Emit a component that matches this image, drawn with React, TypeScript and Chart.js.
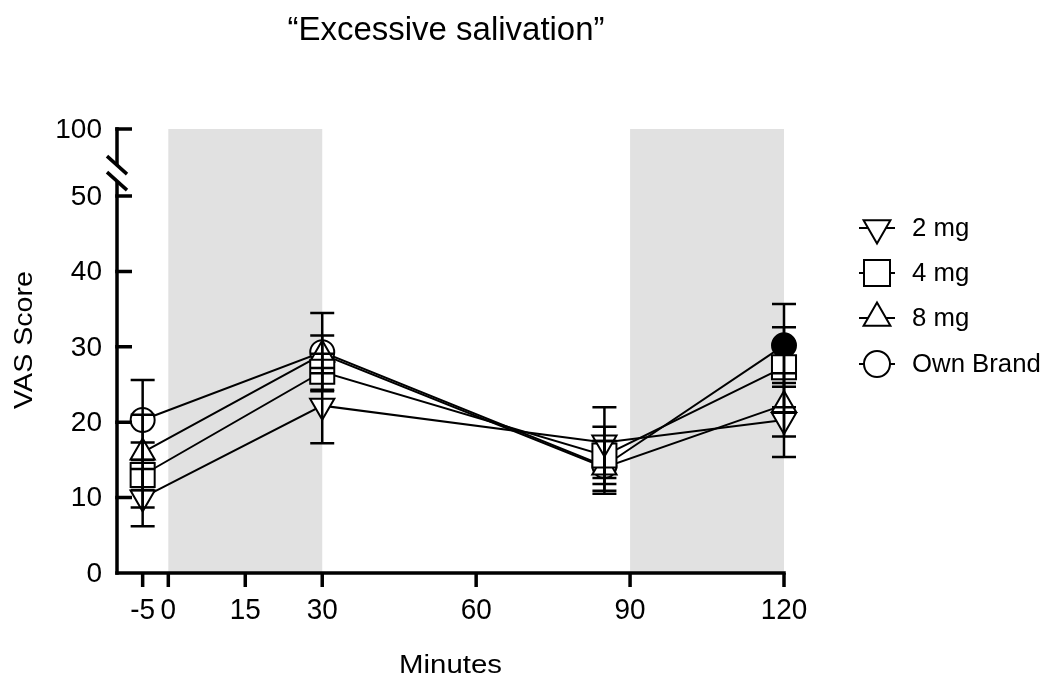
import React, { useEffect, useRef } from "react";
import { Chart, registerables } from "chart.js";

Chart.register(...registerables);

// ---------- data ----------
const minutes = [-5, 30, 85, 120];
const seriesNames = ["2 mg", "4 mg", "8 mg", "Own Brand"];
const mg2 = [10.0, 22.2, 17.3, 20.3];
const mg2Err = [3.8, 5.0, 4.7, 4.9];
const mg4 = [13.0, 26.7, 15.6, 27.3];
const mg4Err = [4.3, 2.4, 3.8, 5.3];
const mg8 = [16.0, 29.0, 14.0, 22.3];
const mg8Err = [5.0, 2.5, 3.5, 4.2];
const own = [20.3, 29.3, 14.2, 30.2];
const ownErr = [5.3, 5.2, 3.3, 5.5];
const ownFilled = [false, false, false, true];

const xTicks = [-5, 0, 15, 30, 60, 90, 120];
const yTicks = [0, 10, 20, 30, 40, 50];
const yBreakTickLabel = "100";
const shadedBands = [
  [0, 30],
  [90, 120],
];
const titleText = "\u201CExcessive salivation\u201D";
const xTitle = "Minutes";
const yTitle = "VAS Score";

const FONT = '"Liberation Sans", Arial, Helvetica, sans-serif';

type Sym = "down" | "square" | "up" | "circle";
const symbols: Sym[] = ["down", "square", "up", "circle"];

function txt(
  ctx: CanvasRenderingContext2D,
  text: string,
  x: number,
  y: number,
  size: number,
  sx: number,
  align: CanvasTextAlign,
  rot = 0
) {
  ctx.save();
  ctx.translate(x, y);
  if (rot) ctx.rotate(rot);
  ctx.scale(sx, 1);
  ctx.font = `${size}px ${FONT}`;
  ctx.textAlign = align;
  ctx.textBaseline = "middle";
  ctx.fillStyle = "#000";
  ctx.fillText(text, 0, 0);
  ctx.restore();
}

function drawSymbol(ctx: CanvasRenderingContext2D, s: Sym, x: number, y: number) {
  ctx.save();
  ctx.beginPath();
  if (s === "circle") {
    ctx.arc(x, y, 13, 0, Math.PI * 2);
  } else if (s === "square") {
    ctx.rect(x - 13, y - 13, 26, 26);
  } else {
    const r = 15.5;
    const dir = s === "up" ? 1 : -1;
    const h = r * 1.5;
    const w = r * Math.sqrt(3);
    const tipY = y - dir * r;
    const baseY = tipY + dir * h;
    ctx.moveTo(x, tipY);
    ctx.lineTo(x + w / 2, baseY);
    ctx.lineTo(x - w / 2, baseY);
    ctx.closePath();
  }
  ctx.fillStyle = "#fff";
  ctx.fill();
  ctx.lineWidth = 2;
  ctx.strokeStyle = "#000";
  ctx.stroke();
  ctx.restore();
}

const decorPlugin = {
  id: "decor",
  beforeDatasetsDraw(chart: any) {
    const { ctx, chartArea, scales } = chart;
    const xs = scales.x;
    ctx.save();
    ctx.fillStyle = "#e1e1e1";
    for (const [a, b] of shadedBands) {
      const x1 = xs.getPixelForValue(a);
      const x2 = xs.getPixelForValue(b);
      ctx.fillRect(x1, chartArea.top, x2 - x1, chartArea.bottom - chartArea.top);
    }
    ctx.restore();
  },
  afterDatasetsDraw(chart: any) {
    const { ctx, scales } = chart;
    const xs = scales.x;
    const ys = scales.y;
    const vals = [mg2, mg4, mg8, own];
    const errs = [mg2Err, mg4Err, mg8Err, ownErr];
    ctx.save();
    ctx.strokeStyle = "#000";
    ctx.lineWidth = 2.5;
    for (let s = 0; s < vals.length; s++) {
      for (let i = 0; i < minutes.length; i++) {
        const px = xs.getPixelForValue(minutes[i]);
        const yHi = ys.getPixelForValue(vals[s][i] + errs[s][i]);
        const yLo = ys.getPixelForValue(vals[s][i] - errs[s][i]);
        ctx.beginPath();
        ctx.moveTo(px, yHi);
        ctx.lineTo(px, yLo);
        ctx.moveTo(px - 12, yHi);
        ctx.lineTo(px + 12, yHi);
        ctx.moveTo(px - 12, yLo);
        ctx.lineTo(px + 12, yLo);
        ctx.stroke();
      }
    }
    ctx.restore();
  },
  afterDraw(chart: any) {
    const { ctx, chartArea, scales } = chart;
    const xs = scales.x;
    const ys = scales.y;
    const left = chartArea.left;
    const bottom = chartArea.bottom;
    const top = chartArea.top;
    const y50 = ys.getPixelForValue(50);
    const breakHi = y50 - 31;
    const breakLo = y50 - 15;

    ctx.save();
    ctx.strokeStyle = "#000";
    ctx.lineWidth = 3.5;
    ctx.lineCap = "butt";
    // y axis (broken)
    ctx.beginPath();
    ctx.moveTo(left, top - 1.75);
    ctx.lineTo(left, breakHi);
    ctx.moveTo(left, breakLo);
    ctx.lineTo(left, bottom + 1.75);
    ctx.stroke();
    // break slashes
    for (const cy of [breakHi, breakLo]) {
      ctx.beginPath();
      ctx.moveTo(left - 10, cy - 9);
      ctx.lineTo(left + 10, cy + 9);
      ctx.stroke();
    }
    // y ticks (inward)
    ctx.beginPath();
    for (const v of yTicks) {
      if (v === 0) continue;
      const py = ys.getPixelForValue(v);
      ctx.moveTo(left - 1.75, py);
      ctx.lineTo(left + 15, py);
    }
    ctx.moveTo(left - 1.75, top);
    ctx.lineTo(left + 15, top);
    ctx.stroke();
    // x axis
    ctx.beginPath();
    ctx.moveTo(left - 1.75, bottom);
    ctx.lineTo(chartArea.right + 1.75, bottom);
    ctx.stroke();
    ctx.beginPath();
    for (const v of xTicks) {
      const px = xs.getPixelForValue(v);
      ctx.moveTo(px, bottom);
      ctx.lineTo(px, bottom + 14);
    }
    ctx.stroke();
    ctx.restore();

    // tick labels
    for (const v of yTicks) {
      txt(ctx, String(v), left - 15, ys.getPixelForValue(v) + 1, 28, 1.0, "right");
    }
    txt(ctx, yBreakTickLabel, left - 15, top + 1, 28, 1.0, "right");
    for (const v of xTicks) {
      txt(ctx, String(v), xs.getPixelForValue(v), bottom + 38, 30, 0.93, "center");
    }

    // titles
    txt(ctx, titleText, 446, 31, 34, 0.97, "center");
    txt(ctx, xTitle, (chartArea.left + chartArea.right) / 2, 666, 26, 1.13, "center");
    txt(ctx, yTitle, 25, 340, 26, 1.1, "center", -Math.PI / 2);

    // legend
    const rows = [228, 273, 318, 364];
    for (let i = 0; i < seriesNames.length; i++) {
      const cy = rows[i];
      ctx.save();
      ctx.strokeStyle = "#000";
      ctx.lineWidth = 2;
      ctx.beginPath();
      ctx.moveTo(859, cy);
      ctx.lineTo(895, cy);
      ctx.stroke();
      ctx.restore();
      drawSymbol(ctx, symbols[i], 877, cy);
      txt(ctx, seriesNames[i], 912, cy + 1, 25, 1.03, "left");
    }
  },
};

function pts(vals: number[]) {
  return minutes.map((m, i) => ({ x: m, y: vals[i] }));
}

export default function App() {
  const ref = useRef<HTMLCanvasElement | null>(null);
  useEffect(() => {
    if (!ref.current) return;
    const base = {
      borderColor: "#000",
      borderWidth: 2,
      pointBorderColor: "#000",
      pointBorderWidth: 2,
      showLine: true,
      fill: false,
      tension: 0,
      clip: false as any,
    };
    const chart = new Chart(ref.current, {
      type: "line",
      data: {
        datasets: [
          {
            ...base,
            label: seriesNames[0],
            data: pts(mg2),
            pointStyle: "triangle",
            pointRotation: 180,
            pointRadius: 14,
            pointBackgroundColor: "#fff",
          },
          {
            ...base,
            label: seriesNames[1],
            data: pts(mg4),
            pointStyle: "rect",
            pointRadius: 17,
            pointBackgroundColor: "#fff",
          },
          {
            ...base,
            label: seriesNames[2],
            data: pts(mg8),
            pointStyle: "triangle",
            pointRadius: 14,
            pointBackgroundColor: "#fff",
          },
          {
            ...base,
            label: seriesNames[3],
            data: pts(own),
            pointStyle: "circle",
            pointRadius: 12,
            pointBackgroundColor: ownFilled.map((f) => (f ? "#000" : "#fff")),
          },
        ],
      },
      options: {
        animation: false,
        responsive: true,
        maintainAspectRatio: false,
        layout: { padding: { left: 117, right: 265, top: 129, bottom: 116 } },
        plugins: {
          legend: { display: false },
          title: { display: false },
          tooltip: { enabled: false },
        },
        events: [],
        scales: {
          x: { type: "linear", min: -10, max: 120, display: false },
          y: { type: "linear", min: 0, max: 58.9, display: false },
        },
      },
      plugins: [decorPlugin],
    });
    return () => chart.destroy();
  }, []);
  return (
    <div
      style={{
        position: "fixed",
        left: 0,
        top: 0,
        width: 1049,
        height: 689,
        background: "#fff",
      }}
    >
      <canvas ref={ref} />
    </div>
  );
}
